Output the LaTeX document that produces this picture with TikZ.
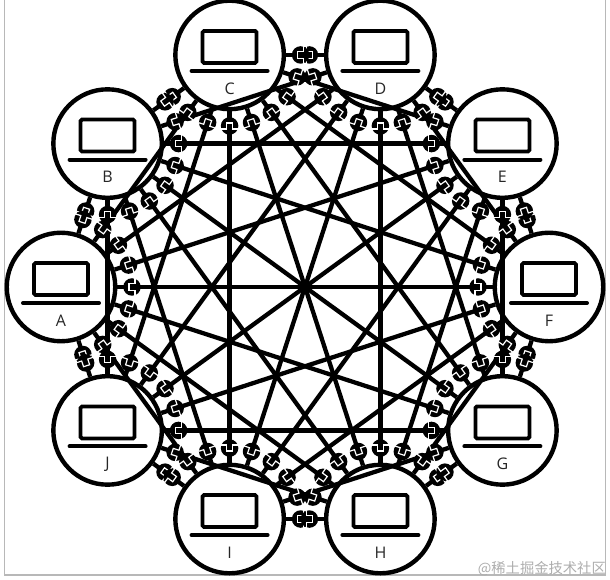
\documentclass[tikz,border=0pt]{standalone}
\usepackage{fontspec}
\setmainfont{Open Sans}
\newfontfamily\cjkwm{Noto Sans CJK SC}
\usetikzlibrary{calc}
\tikzset{
  x=1pt,y=1pt,
  host/.style={circle,draw=black,fill=white,line width=4.4pt,minimum size=108.5pt,inner sep=0pt},
  hosttext/.style={font=\fontsize{16}{16}\selectfont,text=black!85,inner sep=0pt},
  screen/.style={draw=black,line width=3.8pt,rounded corners=1.5pt,minimum width=54pt,minimum height=32pt,inner sep=0pt},
  link/.style={draw=black,line width=4.3pt},
  plug/.style={circle,fill=black,minimum size=17.5pt,inner sep=0pt},
  seam/.style={draw=white,line width=1.2pt},
  frameline/.style={draw=black!28,line width=1.2pt},
}
\newcommand{\hostnode}[2]{%
  \node[host] (#1) at (#2:244) {};
  \node[screen] (s#1) at ([yshift=8pt]#1) {};
  \coordinate (bl#1) at ([xshift=-38pt,yshift=-16pt]#1);
  \coordinate (br#1) at ([xshift=38pt,yshift=-16pt]#1);
  \draw[black,line width=4pt,line cap=round] (bl#1) -- (br#1);
  \node[hosttext] (t#1) at ([yshift=-33.5pt]#1) {#1};
}
\newcommand{\plugat}[2]{%
  \path let \p1=($(#2)-(#1)$), \n1={atan2(\y1,\x1)} in
    coordinate (pc) at ($(#1)!71pt!(#2)$)
    node[plug] (p#1#2) at (pc) {}
    [shift={(pc)},rotate=\n1]
    (3,-8.7) coordinate (q1) -- (3,-3.2) coordinate (q2) -- (-3,-3.2) coordinate (q3) -- (-3,3.2) coordinate (q4) -- (3,3.2) coordinate (q5) -- (3,8.7) coordinate (q6);
  \draw[seam] (q1) -- (q2) -- (q3) -- (q4) -- (q5) -- (q6);
}
\begin{document}
\begin{tikzpicture}
\useasboundingbox (-305,-293) rectangle (305,287);
\draw[frameline] (-300.5,287) -- (-300.5,-288) -- (300.7,-288) -- (300.7,287);
\node[anchor=south east,inner sep=0pt,text=black!32,font=\fontsize{14.3}{14.3}\cjkwm] (wm) at (301,-289) {@稀土掘金技术社区};
\foreach \n/\ang in {F/0,E/36,D/72,C/108,B/144,A/180,J/216,I/252,H/288,G/324}{
  \hostnode{\n}{\ang}
}
\foreach \a [count=\i] in {F,E,D,C,B,A,J,I,H,G}{
  \foreach \b [count=\j] in {F,E,D,C,B,A,J,I,H,G}{
    \ifnum\j>\i\relax \draw[link] (\a) -- (\b); \fi
  }
}
\foreach \a [count=\i] in {F,E,D,C,B,A,J,I,H,G}{
  \foreach \b [count=\j] in {F,E,D,C,B,A,J,I,H,G}{
    \ifnum\j=\i\relax\else \plugat{\a}{\b}\fi
  }
}
\end{tikzpicture}
\end{document}
